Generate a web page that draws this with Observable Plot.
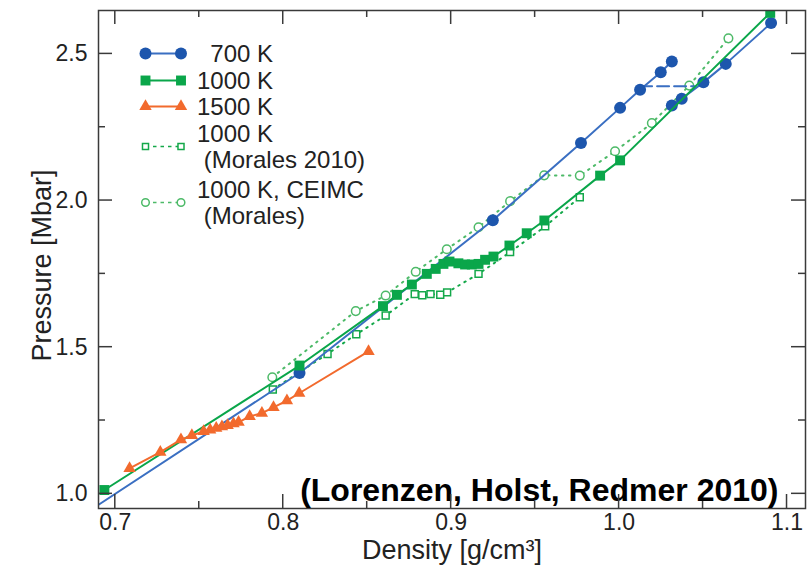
<!DOCTYPE html>
<html>
<head>
<meta charset="utf-8">
<script src="https://cdn.jsdelivr.net/npm/d3@7"></script>
<script src="https://cdn.jsdelivr.net/npm/@observablehq/plot@0.6"></script>
<style>
  html, body { margin: 0; padding: 0; background: #fff; }
  #chart svg { display: block; }
</style>
</head>
<body>
<div id="chart"></div>
<script>
// Hydrogen isotherms: pressure vs density

// 700 K, low-density branch (first point lies outside the frame and is clipped)
const dens700a = [0.68, 0.8097, 0.9248, 0.9773, 1.0006, 1.0125, 1.0248, 1.0314];
const pres700a = [0.925, 1.412, 1.933, 2.196, 2.316, 2.378, 2.4375, 2.474];
// 700 K, high-density branch
const dens700b = [1.0314, 1.0373, 1.0502, 1.0635, 1.0905];
const pres700b = [2.324, 2.347, 2.403, 2.466, 2.605];
// 700 K coexistence tie line
const densTie = [1.0125, 1.045];
const presTie = [2.39, 2.39];

// 1000 K
const dens1000 = [0.6935, 0.8097, 0.8594, 0.8677, 0.8766, 0.8855, 0.8908, 0.8954, 0.899, 0.9043,
                  0.9083, 0.9123, 0.9163, 0.9202, 0.9252, 0.9347, 0.945, 0.9555, 0.9887, 1.0006, 1.09];
const pres1000 = [1.013, 1.4374, 1.640, 1.6785, 1.7136, 1.750, 1.767, 1.784, 1.792, 1.786,
                  1.782, 1.782, 1.784, 1.798, 1.809, 1.8466, 1.8885, 1.932, 2.085, 2.137, 2.64];

// 1500 K
const dens1500 = [0.7085, 0.7268, 0.7391, 0.7456, 0.7526, 0.7565, 0.7601, 0.7635, 0.7669,
                  0.7704, 0.7734, 0.7800, 0.7873, 0.7942, 0.8022, 0.8095, 0.8508];
const pres1500 = [1.087, 1.142, 1.185, 1.199, 1.213, 1.218, 1.224, 1.229, 1.233,
                  1.239, 1.244, 1.264, 1.275, 1.295, 1.318, 1.343, 1.486];

// 1000 K (Morales 2010)
const densMorales = [0.7938, 0.8264, 0.8435, 0.861, 0.8783, 0.8828, 0.8877, 0.8935, 0.8976,
                     0.9163, 0.9351, 0.956, 0.9766];
const presMorales = [1.356, 1.477, 1.544, 1.608, 1.681, 1.677, 1.681, 1.679, 1.687,
                     1.75, 1.824, 1.912, 2.011];

// 1000 K, CEIMC (Morales)
const densCeimc = [0.7935, 0.8432, 0.861, 0.8789, 0.8974, 0.9163, 0.9351, 0.9554, 0.9766,
                   0.9976, 1.0195, 1.0418, 1.0651];
const presCeimc = [1.3975, 1.623, 1.676, 1.757, 1.834, 1.909, 1.998, 2.086, 2.085,
                   2.168, 2.264, 2.392, 2.553];

// axis ticks
const xMajor = [0.7, 0.8, 0.9, 1.0, 1.1];
const xMinor = [0.75, 0.85, 0.95, 1.05];
const yMajor = [1.0, 1.5, 2.0, 2.5];
const yMinor = [1.25, 1.75, 2.25];

const xTitle = "Density [g/cm³]";
const yTitle = "Pressure [Mbar]";
const credit = "(Lorenzen, Holst, Redmer 2010)";

const FONT = "'Liberation Sans', Arial, Helvetica, sans-serif";
const BLUE = "#1d56ad", BLUE_LINE = "#3a6fc2";
const GREEN = "#0aa64a";
const ORANGE = "#f26a2d";
const MORALES = "#14a84a";
const CEIMC = "#4dba68";
const AXIS = "#3a3a3a";

const W = 807, H = 569;
const M = {left: 98, right: 2, top: 10, bottom: 61};

const rows = (xs, ys) => xs.map((d, i) => ({density: d, pressure: ys[i]}));
const d700a = rows(dens700a, pres700a);
const d700b = rows(dens700b, pres700b);
const dTie = rows(densTie, presTie);
const d1000 = rows(dens1000, pres1000);
const d1500 = rows(dens1500, pres1500);
const dMorales = rows(densMorales, presMorales);
const dCeimc = rows(densCeimc, presCeimc);

const xy = {x: "density", y: "pressure", clip: true};
const fmt = d3.format(".1f");

const plot = Plot.plot({
  width: W,
  height: H,
  marginLeft: M.left,
  marginRight: M.right,
  marginTop: M.top,
  marginBottom: M.bottom,
  style: {fontFamily: FONT, background: "white", color: "#222", overflow: "visible"},
  x: {domain: [0.69, 1.111]},
  y: {domain: [0.95, 2.648]},
  marks: [
    // reference simulations (Morales)
    Plot.line(dMorales, {...xy, stroke: MORALES, strokeWidth: 2, strokeDasharray: "1.5,5.5", strokeLinecap: "round"}),
    Plot.line(dCeimc, {...xy, stroke: CEIMC, strokeWidth: 2, strokeDasharray: "1.5,5.5", strokeLinecap: "round"}),
    Plot.dot(dMorales, {...xy, symbol: "square", r: 3.9, fill: "white", stroke: MORALES, strokeWidth: 1.5}),
    Plot.dot(dCeimc, {...xy, symbol: "circle", r: 4.3, fill: "white", stroke: CEIMC, strokeWidth: 1.5}),

    // 700 K
    Plot.line(dTie, {...xy, stroke: BLUE_LINE, strokeWidth: 2, strokeDasharray: "12,5"}),
    Plot.line(d700a, {...xy, stroke: BLUE_LINE, strokeWidth: 2}),
    Plot.line(d700b, {...xy, stroke: BLUE_LINE, strokeWidth: 2}),
    Plot.dot(d700a, {...xy, symbol: "circle", r: 6, fill: BLUE}),
    Plot.dot(d700b, {...xy, symbol: "circle", r: 6, fill: BLUE}),

    // 1000 K
    Plot.line(d1000, {...xy, stroke: GREEN, strokeWidth: 2}),
    Plot.dot(d1000, {...xy, symbol: "square", r: 5.6, fill: GREEN}),

    // 1500 K
    Plot.line(d1500, {...xy, stroke: ORANGE, strokeWidth: 2}),
    Plot.dot(d1500, {...xy, symbol: "triangle", r: 4.6, fill: ORANGE}),

    // frame and tick labels
    Plot.frame({stroke: AXIS, strokeWidth: 1.5}),
    Plot.axisX(xMajor, {anchor: "bottom", tickSize: 0, tickPadding: 5, tickFormat: fmt, fontSize: 23, label: null}),
    Plot.axisY(yMajor, {anchor: "left", tickSize: 0, tickPadding: 11, tickFormat: fmt, fontSize: 23, label: null}),

    // axis titles
    Plot.text([xTitle], {text: d => d, frameAnchor: "bottom", dy: 42, fontSize: 27, fill: "#222",
                         textAnchor: "middle", lineAnchor: "middle"}),
    Plot.text([yTitle], {text: d => d, frameAnchor: "left", dx: -56, dy: 6, rotate: -90, fontSize: 27, fill: "#222",
                         textAnchor: "middle", lineAnchor: "middle"}),

    // source note
    Plot.text([credit], {text: d => d, frameAnchor: "bottom-right", dx: -27, dy: -18, textAnchor: "end", lineAnchor: "middle",
                         fontSize: 32, fontWeight: "bold", fill: "#000"})
  ]
});

const svg = d3.select(plot);

// inward ticks on all four sides, placed with the plot's own scales
const sx = plot.scale("x"), sy = plot.scale("y");
const frameL = M.left, frameR = W - M.right, frameT = M.top, frameB = H - M.bottom;
const tickG = svg.append("g").attr("stroke", AXIS).attr("stroke-width", 1.5);
[[xMajor, 14], [xMinor, 7]].forEach(([values, len]) => {
  values.forEach(v => {
    const px = sx.apply(v);
    tickG.append("line").attr("x1", px).attr("x2", px).attr("y1", frameB).attr("y2", frameB - len);
    tickG.append("line").attr("x1", px).attr("x2", px).attr("y1", frameT).attr("y2", frameT + len);
  });
});
[[yMajor, 14], [yMinor, 7]].forEach(([values, len]) => {
  values.forEach(v => {
    const py = sy.apply(v);
    tickG.append("line").attr("y1", py).attr("y2", py).attr("x1", frameL).attr("x2", frameL + len);
    tickG.append("line").attr("y1", py).attr("y2", py).attr("x1", frameR).attr("x2", frameR - len);
  });
});

// legend in the upper-left corner of the frame
const legendItems = [
  {lines: ["\u2007700 K"], symbol: d3.symbolCircle, size: Math.PI * 36, fill: BLUE, stroke: BLUE_LINE, dash: null, open: false},
  {lines: ["1000 K"], symbol: d3.symbolSquare, size: Math.PI * 5.6 * 5.6, fill: GREEN, stroke: GREEN, dash: null, open: false},
  {lines: ["1500 K"], symbol: d3.symbolTriangle, size: Math.PI * 4.6 * 4.6, fill: ORANGE, stroke: ORANGE, dash: null, open: false},
  {lines: ["1000 K", "\u00a0(Morales 2010)"], symbol: d3.symbolSquare, size: Math.PI * 3.4 * 3.4, fill: "white", stroke: MORALES, dash: "3.5,4", open: true},
  {lines: ["1000 K, CEIMC", "\u00a0(Morales)"], symbol: d3.symbolCircle, size: Math.PI * 3.8 * 3.8, fill: "white", stroke: CEIMC, dash: "3.5,4", open: true}
];
const legendRowY = [53.5, 80.5, 106.5, 146.5, 202.5];
const legendX0 = 145.5, legendX1 = 181, legendTextX = 197, lineGap = 26.5;

const legend = svg.append("g")
  .attr("font-family", FONT).attr("font-size", 24).attr("fill", "#222").attr("text-anchor", "start");
legendItems.forEach((item, i) => {
  const y = legendRowY[i];
  const g = legend.append("g");
  g.append("line")
    .attr("x1", legendX0).attr("x2", legendX1).attr("y1", y).attr("y2", y)
    .attr("stroke", item.stroke).attr("stroke-width", item.open ? 1.5 : 2)
    .attr("stroke-dasharray", item.dash);
  [legendX0, legendX1].forEach(x => {
    g.append("path")
      .attr("d", d3.symbol(item.symbol, item.size)())
      .attr("transform", `translate(${x},${y})`)
      .attr("fill", item.fill)
      .attr("stroke", item.open ? item.stroke : "none")
      .attr("stroke-width", 1.5);
  });
  const n = item.lines.length;
  item.lines.forEach((t, k) => {
    g.append("text")
      .attr("x", legendTextX)
      .attr("y", y + (k - (n - 1) / 2) * lineGap)
      .attr("dy", "0.35em")
      .attr("text-anchor", "start")
      .text(t);
  });
});

document.getElementById("chart").appendChild(plot);
</script>
</body>
</html>
